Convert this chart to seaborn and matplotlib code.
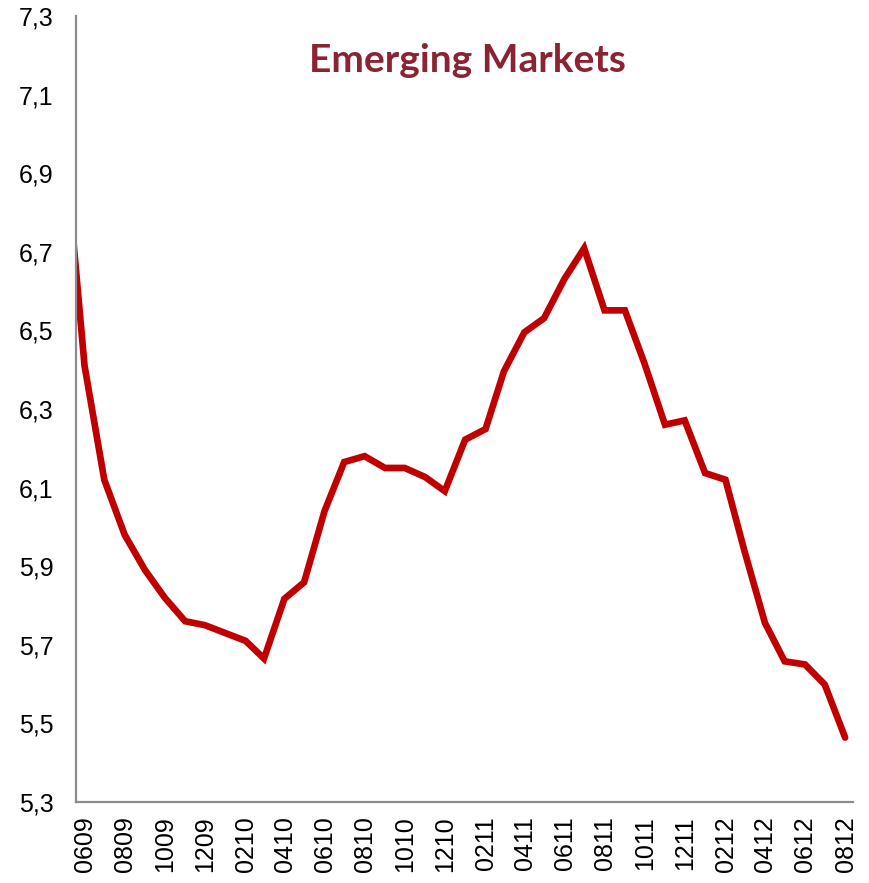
import matplotlib
matplotlib.use("Agg")
import matplotlib.pyplot as plt
import matplotlib.dates as mdates
import matplotlib.transforms as mtransforms
from matplotlib.ticker import FuncFormatter
import seaborn as sns
import pandas as pd
import numpy as np

# ---- data ----
months = [
    "2009-05", "2009-06", "2009-07", "2009-08", "2009-09", "2009-10", "2009-11", "2009-12",
    "2010-01", "2010-02", "2010-03", "2010-04", "2010-05", "2010-06", "2010-07", "2010-08",
    "2010-09", "2010-10", "2010-11", "2010-12", "2011-01", "2011-02", "2011-03", "2011-04",
    "2011-05", "2011-06", "2011-07", "2011-08", "2011-09", "2011-10", "2011-11", "2011-12",
    "2012-01", "2012-02", "2012-03", "2012-04", "2012-05", "2012-06", "2012-07", "2012-08",
]
values = [
    6.99, 6.41, 6.12, 5.98, 5.89, 5.82, 5.76, 5.75,
    5.73, 5.71, 5.665, 5.817, 5.859, 6.04, 6.165, 6.18,
    6.15, 6.15, 6.127, 6.091, 6.222, 6.249, 6.396, 6.495,
    6.531, 6.631, 6.709, 6.551, 6.551, 6.415, 6.26, 6.271,
    6.137, 6.12, 5.938, 5.756, 5.658, 5.65, 5.599, 5.464,
]
title = "Emerging Markets"
y_min, y_max, y_step = 5.3, 7.3, 0.2

df = pd.DataFrame({
    "date": pd.to_datetime([m + "-14" for m in months]),
    "value": values,
})

sns.set_style("white")
plt.rcParams["font.family"] = ["Liberation Sans", "DejaVu Sans"]

fig = plt.figure(figsize=(8.69, 8.83), dpi=100)
ax = fig.add_axes([76 / 869, 1 - 802 / 883, (853 - 76) / 869, (802 - 16) / 883])

sns.lineplot(data=df, x="date", y="value", ax=ax, color="#C00000", linewidth=4.8,
             solid_joinstyle="miter")

ax.set_xlim(pd.Timestamp("2009-06-01"), pd.Timestamp("2012-08-26"))
ax.set_ylim(y_min, y_max)
ax.set_yticks(np.round(np.arange(y_min, y_max + y_step / 2, y_step), 1))
ax.yaxis.set_major_formatter(FuncFormatter(lambda v, p: f"{v:.1f}".replace(".", ",")))
ax.xaxis.set_major_locator(mdates.MonthLocator(bymonth=[2, 4, 6, 8, 10, 12], bymonthday=1))
ax.xaxis.set_major_formatter(mdates.DateFormatter("%m%y"))
ax.set_xlabel("")
ax.set_ylabel("")

for side in ["top", "right"]:
    ax.spines[side].set_visible(False)
for side in ["left", "bottom"]:
    ax.spines[side].set_color("#8C8C8C")
    ax.spines[side].set_linewidth(1.6)

ax.tick_params(axis="both", which="major", direction="out", length=6, width=1.4,
               color="#8C8C8C", labelsize=18, labelcolor="black")
ax.tick_params(axis="y", pad=10)
ax.tick_params(axis="x", pad=4, labelrotation=90)

offset = mtransforms.ScaledTranslation(9 / 100, 0, fig.dpi_scale_trans)
for lab in ax.get_xticklabels():
    lab.set_transform(lab.get_transform() + offset)
    lab.set_va("top")
    lab.set_ha("center")

fig.text(467 / 869, 1 - 60 / 883, title, ha="center", va="center",
         fontsize=28, fontweight="bold", color="#8B2332", family=["Lato", "DejaVu Sans"])

fig.savefig("out.png", dpi=100)
